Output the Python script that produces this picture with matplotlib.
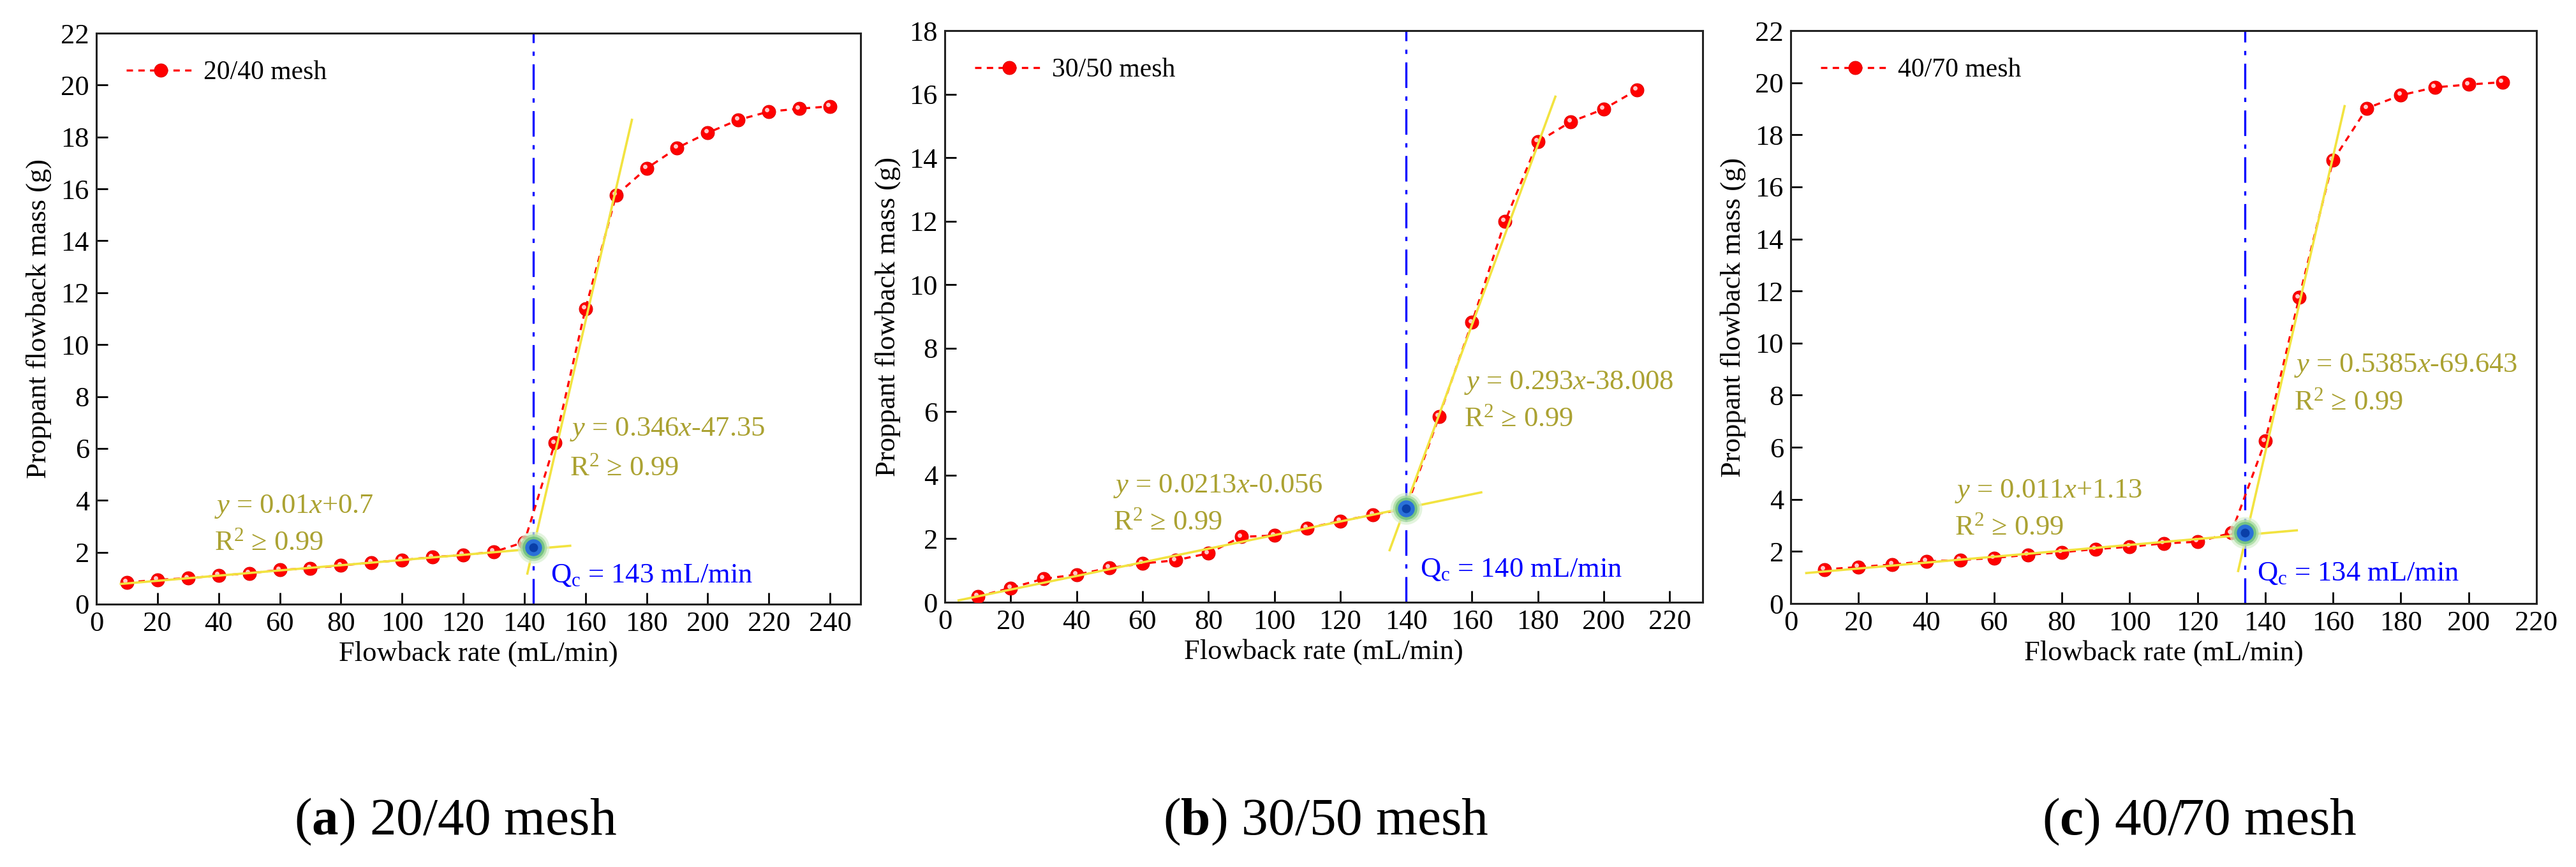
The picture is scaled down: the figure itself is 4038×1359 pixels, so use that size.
import matplotlib
matplotlib.use("Agg")
import matplotlib.pyplot as plt
from matplotlib.transforms import offset_copy

plt.rcParams['font.family'] = ['Liberation Serif', 'DejaVu Serif']
plt.rcParams['mathtext.fontset'] = 'custom'
plt.rcParams['mathtext.rm'] = 'Liberation Serif'
plt.rcParams['mathtext.it'] = 'Liberation Serif:italic'
plt.rcParams['mathtext.bf'] = 'Liberation Serif:bold'

# ---------------- data ----------------
x_a = [10, 20, 30, 40, 50, 60, 70, 80, 90, 100, 110, 120, 130, 140, 150, 160, 170, 180,
       190, 200, 210, 220, 230, 240]
y_a = [0.83, 0.94, 1.00, 1.10, 1.19, 1.32, 1.38, 1.49, 1.60, 1.70, 1.81, 1.90, 2.01, 2.39,
       6.21, 11.38, 15.75, 16.79, 17.58, 18.16, 18.66, 18.98, 19.09, 19.18]
x_b = [10, 20, 30, 40, 50, 60, 70, 80, 90, 100, 110, 120, 130, 140, 150, 160, 170, 180,
       190, 200, 210]
y_b = [0.18, 0.45, 0.74, 0.87, 1.08, 1.22, 1.32, 1.54, 2.06, 2.10, 2.33, 2.56, 2.75, 2.95,
       5.85, 8.81, 11.99, 14.50, 15.13, 15.53, 16.13]
x_c = [10, 20, 30, 40, 50, 60, 70, 80, 90, 100, 110, 120, 130, 140, 150, 160, 170, 180,
       190, 200, 210]
y_c = [1.31, 1.40, 1.50, 1.62, 1.67, 1.75, 1.87, 1.97, 2.09, 2.18, 2.31, 2.37, 2.71, 6.24,
       11.75, 17.02, 19.02, 19.52, 19.82, 19.93, 20.02]

series_labels = ['20/40 mesh', '30/50 mesh', '40/70 mesh']
captions = ['a', 'b', 'c']
qc_values = [143, 140, 134]
qc_y = [2.2, 2.95, 2.71]

# fitted lines as drawn (endpoints)
low_fit_x = [[8, 155], [4.2, 162.8], [4.6, 149.3]]
low_fit_y = [[0.78, 2.25], [0.06, 3.46], [1.17, 2.81]]
high_fit_x = [[141, 175.2], [135, 185.3], [132, 163.4]]
high_fit_y = [[1.18, 18.66], [1.64, 15.92], [1.25, 19.1]]

low_eq = [r'$\mathit{y}$ = 0.01$\mathit{x}$+0.7', r'$\mathit{y}$ = 0.0213$\mathit{x}$-0.056',
          r'$\mathit{y}$ = 0.011$\mathit{x}$+1.13']
high_eq = [r'$\mathit{y}$ = 0.346$\mathit{x}$-47.35', r'$\mathit{y}$ = 0.293$\mathit{x}$-38.008',
           r'$\mathit{y}$ = 0.5385$\mathit{x}$-69.643']
r2_text = r'R$^{2}$ ≥ 0.99'
low_eq_pos = [(38.7, 3.77, 2.36), (51.2, 3.65, 2.5), (48.3, 4.32, 2.92)]
high_eq_pos = [(154.8, 6.73, 5.22), (157.5, 6.92, 5.76), (148.5, 9.13, 7.72)]
qc_text_pos = [(148.5, 1.1), (144.2, 1.02), (137.6, 1.15)]

xlims = [250, 230, 220]
xtick_max = [240, 220, 220]
ylims = [22, 18, 22]

# ---------------- layout ----------------
W, H = 4038, 1359
fig = plt.figure(figsize=(W / 100, H / 100), dpi=100)
boxes = [(151, 1349, 52, 947), (1481, 2669, 48, 944), (2807, 3976, 48, 946)]
cap_x = [714, 2078, 3448]

eq_color = '#aba232'
fit_color = '#f2e340'
red = '#ff0000'
FS = 32

all_x = [x_a, x_b, x_c]
all_y = [y_a, y_b, y_c]

for i in range(3):
    l, r, t, b = boxes[i]
    ax = fig.add_axes([l / W, (H - b) / H, (r - l) / W, (b - t) / H])
    xs, ys = all_x[i], all_y[i]

    ax.axvline(qc_values[i], color='#0000ff', lw=2.4, ls=(0, (12, 4, 2, 4)), zorder=2)

    line, = ax.plot(xs, ys, color=red, lw=2.4, ls=(0, (3, 2.5)), marker='o',
                    markersize=15, markerfacecolor=red, markeredgecolor='#e00000',
                    markeredgewidth=0.8, zorder=3, label=series_labels[i])
    hl_tr = offset_copy(ax.transData, fig=fig, x=-2.0, y=2.0, units='points')
    ax.plot(xs, ys, ls='none', marker='o', markersize=5, markerfacecolor='#ffc8c8',
            markeredgecolor='none', transform=hl_tr, zorder=4)

    ax.plot(low_fit_x[i], low_fit_y[i], color=fit_color, lw=2.6, zorder=5)
    ax.plot(high_fit_x[i], high_fit_y[i], color=fit_color, lw=2.6, zorder=5)

    # glowing critical point
    for ms, c, a in [(36, '#d8f0d0', 0.7), (30, '#a8dca0', 0.8), (25, '#70c080', 0.9)]:
        ax.plot([qc_values[i]], [qc_y[i]], ls='none', marker='o', markersize=ms,
                markerfacecolor=c, markeredgecolor='none', alpha=a, zorder=6)
    ax.plot([qc_values[i]], [qc_y[i]], ls='none', marker='o', markersize=19,
            markerfacecolor='#2a70d8', markeredgecolor='none', zorder=7)
    ax.plot([qc_values[i]], [qc_y[i]], ls='none', marker='o', markersize=10,
            markerfacecolor='#0a3fa8', markeredgecolor='none', zorder=8)

    lx, ly1, ly2 = low_eq_pos[i]
    ax.text(lx, ly1, low_eq[i], color=eq_color, fontsize=FS, va='center', ha='left')
    ax.text(lx, ly2, r2_text, color=eq_color, fontsize=FS, va='center', ha='left')
    hx, hy1, hy2 = high_eq_pos[i]
    ax.text(hx, hy1, high_eq[i], color=eq_color, fontsize=FS, va='center', ha='left')
    ax.text(hx, hy2, r2_text, color=eq_color, fontsize=FS, va='center', ha='left')
    qx, qy = qc_text_pos[i]
    ax.text(qx, qy, r'Q$_{\mathrm{c}}$ = %d mL/min' % qc_values[i], color='#0000ff',
            fontsize=FS, va='center', ha='left')

    ax.set_xlim(0, xlims[i])
    ax.set_ylim(0, ylims[i])
    ax.set_xticks(list(range(0, xtick_max[i] + 1, 20)))
    ax.set_yticks(list(range(0, ylims[i] + 1, 2)))
    ax.tick_params(direction='in', length=13, width=2.0, labelsize=FS, pad=8,
                   top=False, right=False)
    for s in ax.spines.values():
        s.set_linewidth(2.2)
        s.set_color('#222222')
    ax.set_xlabel('Flowback rate (mL/min)', fontsize=FS, labelpad=4)
    ax.set_ylabel('Proppant flowback mass (g)', fontsize=FS, labelpad=10)

    ax.legend(handles=[line], loc='upper left', frameon=False, fontsize=30,
              handlelength=2.6, handletextpad=0.3, borderaxespad=0.3,
              bbox_to_anchor=(0.015, 0.985))

    fig.text(cap_x[i] / W, 1 - 1288 / H, r'($\mathbf{%s}$) %s' % (captions[i], series_labels[i]),
             fontsize=60, ha='center', va='center')

fig.savefig('out.png', dpi=100, facecolor='white')
